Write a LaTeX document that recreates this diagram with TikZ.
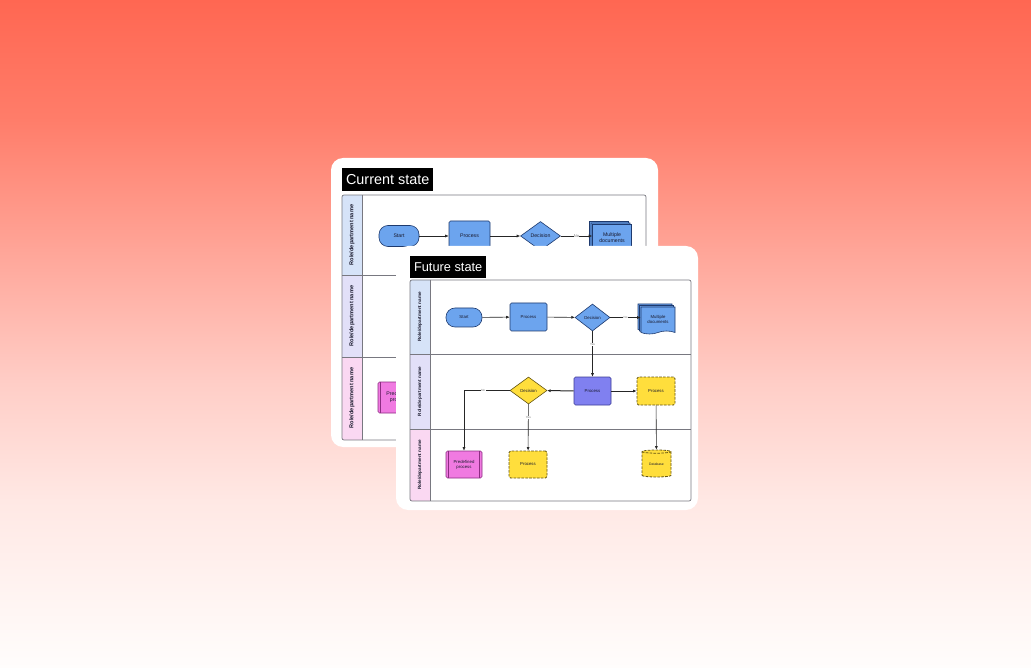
\documentclass[tikz,border=0pt]{standalone}
\usepackage{fontspec}
\setmainfont{Liberation Sans}
\usetikzlibrary{arrows.meta, positioning, shapes.geometric, shapes.symbols, shadows}
\definecolor{bgA}{RGB}{255,103,82}
\definecolor{bgB}{RGB}{255,125,106}
\definecolor{bgC}{RGB}{255,165,152}
\definecolor{bgD}{RGB}{255,205,198}
\definecolor{bgE}{RGB}{255,232,228}
\definecolor{bgF}{RGB}{255,253,252}
\definecolor{FlowBlue}{RGB}{108,164,238}
\definecolor{FlowBlueDark}{RGB}{30,58,110}
\definecolor{FlowPurple}{RGB}{128,128,240}
\definecolor{FlowPurpleDark}{RGB}{60,60,150}
\definecolor{FlowYellow}{RGB}{255,222,60}
\definecolor{FlowYellowDark}{RGB}{100,85,20}
\definecolor{FlowPink}{RGB}{240,122,225}
\definecolor{FlowPinkDark}{RGB}{140,45,130}
\definecolor{LaneBlue}{RGB}{214,227,248}
\definecolor{LaneLilac}{RGB}{226,224,248}
\definecolor{LanePink}{RGB}{250,216,242}
\definecolor{FrameGrey}{RGB}{120,120,128}
\definecolor{InkDark}{RGB}{25,25,45}

\begin{document}
\begin{tikzpicture}[x=1pt, y=-1pt,
  card/.style={fill=white, rounded corners=12pt},
  statetitle/.style={fill=black, text=white, inner sep=0pt, anchor=north west},
  frame/.style={draw=FrameGrey, line width=0.7pt},
  lanetxt/.style={rotate=90, text=InkDark, font=\bfseries\fontsize{4.6}{5}\selectfont},
  startbox/.style={draw=FlowBlueDark, fill=FlowBlue, line width=0.6pt, rounded corners=9pt, inner sep=0pt, text=InkDark},
  procbox/.style={draw=#1Dark, fill=#1, line width=0.6pt, rounded corners=1.5pt, inner sep=0pt, align=center, text=InkDark},
  decbox/.style={diamond, aspect=1.3, draw=#1Dark, fill=#1, line width=0.6pt, inner sep=0pt, text=InkDark},
  dashbox/.style={procbox=FlowYellow, dash pattern=on 2.6pt off 1.3pt, line width=0.8pt},
  docsbox/.style={tape, tape bend top=none, tape bend bottom=in and out, tape bend height=3pt,
    draw=FlowBlueDark, fill=FlowBlue, line width=0.6pt, inner sep=0pt, align=center, text=InkDark,
    copy shadow={shadow xshift=-3pt, shadow yshift=3pt, draw=FlowBlueDark, fill=FlowBlue, line width=0.6pt},
    copy shadow={shadow xshift=-1.5pt, shadow yshift=1.5pt, draw=FlowBlueDark, fill=FlowBlue, line width=0.6pt}},
  predefbox/.style={procbox=FlowPink, path picture={
    \draw[FlowPinkDark, line width=0.5pt] ([xshift=2.5pt]path picture bounding box.north west) -- ([xshift=2.5pt]path picture bounding box.south west)
      ([xshift=-2.5pt]path picture bounding box.north east) -- ([xshift=-2.5pt]path picture bounding box.south east);}},
  dbbox/.style={cylinder, shape border rotate=90, aspect=0.22, draw=FlowYellowDark, fill=FlowYellow,
    dash pattern=on 2.6pt off 1.3pt, line width=0.8pt, inner sep=0pt, text=InkDark},
  conn/.style={-{Latex[length=3.5pt, width=3pt]}, draw=black!85, line width=0.6pt},
  connbold/.style={conn, line width=1pt},
  lbl/.style={fill=white, inner sep=0.4pt, text=black!55, font=\fontsize{3}{3}\selectfont}
]
\useasboundingbox (0,0) rectangle (1031,668);

% background
\foreach \ya/\yb/\ca/\cb in {0/121/bgA/bgB, 120/251/bgB/bgC, 250/381/bgC/bgD, 380/501/bgD/bgE, 500/668/bgE/bgF}
  \shade[top color=\ca, bottom color=\cb] (0,\ya) rectangle (1031,\yb);

% current state card
\fill[card] (331,158) rectangle (658,447);
\node[statetitle, minimum width=91pt, minimum height=23pt, font=\fontsize{14.4}{16}\selectfont] (btitle) at (342,168) {Current state};
\foreach \ya/\yb/\c in {195/275/LaneBlue, 275/357/LaneLilac, 357/440/LanePink}
  \fill[\c] (342,\ya) rectangle (362,\yb);
\draw[frame, rounded corners=2pt] (342,195) rectangle (646,440);
\draw[frame] (362,195) -- (362,440) (342,275) -- (646,275) (342,357) -- (646,357);

\begin{scope}[every node/.append style={font=\fontsize{5.2}{6}\selectfont}]
  \node[lanetxt, font=\bfseries\fontsize{5.6}{6}\selectfont] (bl1) at (352,235) {Role/department name};
  \node[lanetxt, font=\bfseries\fontsize{5.6}{6}\selectfont] (bl2) at (352,316) {Role/department name};
  \node[lanetxt, font=\bfseries\fontsize{5.6}{6}\selectfont] (bl3) at (352,398) {Role/department name};

  \node[startbox, minimum width=40pt, minimum height=21pt] (bstart) at (399,236) {Start};
  \node[procbox=FlowBlue, minimum width=41pt, minimum height=30pt] (bproc) at (469.5,236) {Process};
  \node[decbox=FlowBlue, minimum width=40pt, minimum height=29pt] (bdec) at (540.5,236) {Decision};
  \node[docsbox, minimum width=39pt, minimum height=30pt] (bdocs) at (612,238) {Multiple\\documents};
  \node[predefbox, minimum width=42pt, minimum height=31pt] (bpre) at (399,397.5) {Predefined\\process};

  \draw[conn] (bstart) -- (bproc);
  \draw[conn] (bproc) -- (bdec);
  \draw[conn] (bdec) -- node[lbl, font=\fontsize{4}{4}\selectfont] {No} (bdocs.west |- bdec);
\end{scope}

% future state card
\fill[card] (396,246) rectangle (698,510);
\node[statetitle, minimum width=76pt, minimum height=22pt, font=\fontsize{12.8}{14}\selectfont] (ftitle) at (410,256) {Future state};
\foreach \ya/\yb/\c in {280/354/LaneBlue, 354/429/LaneLilac, 429/501/LanePink}
  \fill[\c] (410,\ya) rectangle (430,\yb);
\draw[frame, rounded corners=2pt] (410,280) rectangle (691,501);
\draw[frame] (430,280) -- (430,501) (410,354) -- (691,354) (410,429) -- (691,429);

\begin{scope}[every node/.append style={font=\fontsize{4.3}{5}\selectfont}]
  \node[lanetxt] (fl1) at (420,317) {Role/department name};
  \node[lanetxt] (fl2) at (420,391.5) {Role/department name};
  \node[lanetxt] (fl3) at (420,465) {Role/department name};

  \node[startbox, minimum width=36pt, minimum height=19pt] (fstart) at (464,317.5) {Start};
  \node[procbox=FlowBlue, minimum width=37pt, minimum height=28pt] (fproc) at (528.5,317) {Process};
  \node[decbox=FlowBlue, minimum width=35pt, minimum height=27pt] (fdec) at (592.5,317.5) {Decision};
  \node[docsbox, minimum width=34pt, minimum height=27pt] (fdocs) at (658,319) {Multiple\\documents};

  \node[procbox=FlowPurple, minimum width=37pt, minimum height=28pt] (fpurple) at (592.5,391) {Process};
  \node[decbox=FlowYellow, minimum width=37pt, minimum height=27pt] (fydec) at (528.5,390.5) {Decision};
  \node[dashbox, minimum width=38pt, minimum height=28pt] (fyproc) at (656,391) {Process};

  \node[predefbox, minimum width=36pt, minimum height=27pt] (fpre) at (464,464.5) {Predefined\\process};
  \node[dashbox, minimum width=38pt, minimum height=27pt] (fyproc2) at (528,464.5) {Process};
  \node[dbbox, minimum width=29pt, minimum height=27pt, font=\fontsize{3.4}{4}\selectfont] (fdb) at (656.5,464.5) {Database};

  \draw[conn] (fstart) -- (fproc);
  \draw[conn] (fproc) -- (fdec);
  \draw[conn] (fdec) -- node[lbl] {No} (fdocs.west |- fdec);
  \draw[conn] (fdec) -- node[lbl, pos=0.3] {Yes} (fpurple);
  \draw[connbold] (fpurple) -- (fydec);
  \draw[connbold] (fpurple) -- (fyproc);
  \draw[conn] (fydec.west) -| node[lbl, pos=0.29] {No} (fpre.north);
  \draw[conn] (fydec) -- node[lbl, pos=0.28] {Yes} (fyproc2);
  \draw[conn] (fyproc) -- (fdb);
\end{scope}
\end{tikzpicture}
\end{document}
